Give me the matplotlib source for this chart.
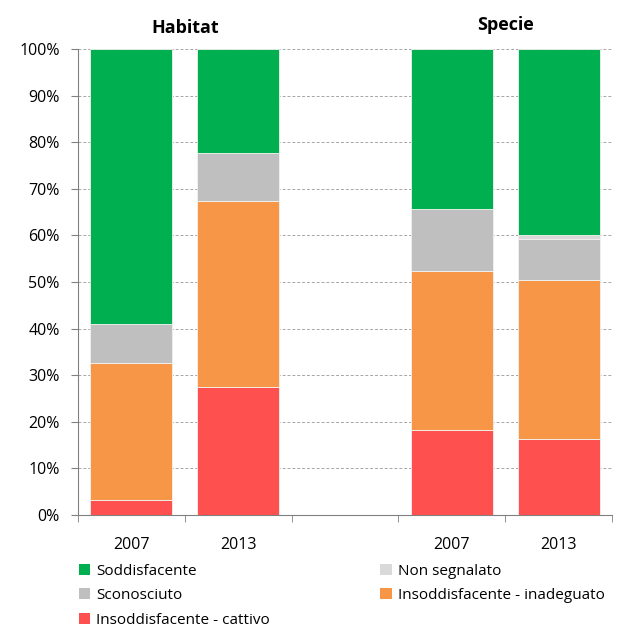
import numpy as np
import matplotlib.pyplot as plt
from matplotlib.patches import Patch
from matplotlib.ticker import FixedLocator, PercentFormatter

plt.rcParams['font.family'] = ['Open Sans', 'DejaVu Sans']

labels = ['2007', '2013', '', '2007', '2013']
red = [3.2, 27.4, 0, 18.3, 16.4]          # Insoddisfacente - cattivo
orange = [29.4, 40.0, 0, 34.0, 34.0]      # Insoddisfacente - inadeguato
grey = [8.3, 10.4, 0, 13.4, 8.9]          # Sconosciuto
lightgrey = [0, 0, 0, 0, 0.8]             # Non segnalato
green = [59.1, 22.2, 0, 34.3, 39.9]       # Soddisfacente

series = [
    ('Insoddisfacente - cattivo', red, '#FF5050'),
    ('Insoddisfacente - inadeguato', orange, '#F79646'),
    ('Sconosciuto', grey, '#BFBFBF'),
    ('Non segnalato', lightgrey, '#D9D9D9'),
    ('Soddisfacente', green, '#00B050'),
]

fig = plt.figure(figsize=(6.33, 6.30), dpi=100)
ax = fig.add_axes([0.123, 0.1825, 0.844, 0.7395])

x = np.arange(len(labels))
bottom = np.zeros(len(labels))
colors = {}
for name, vals, col in series:
    vals = np.array(vals, dtype=float)
    ax.bar(x, vals, bottom=bottom, width=0.77, color=col,
           edgecolor='#F2F2F2', linewidth=0.6, zorder=3)
    bottom += vals
    colors[name] = col

ax.set_xlim(-0.5, len(labels) - 0.5)
ax.set_ylim(0, 100)
ax.yaxis.set_major_locator(FixedLocator(np.arange(0, 101, 10)))
ax.yaxis.set_major_formatter(PercentFormatter(decimals=0))
ax.grid(axis='y', linestyle=(0, (3, 2)), color='#A6A6A6', linewidth=0.7, zorder=0)

ax.set_xticks(x)
ax.set_xticklabels(labels)
ax.set_xticks(np.arange(-0.5, len(labels), 1), minor=True)
ax.tick_params(axis='x', which='major', length=0, pad=16, labelsize=11.5, colors='#000000')
ax.tick_params(axis='x', which='minor', length=5, color='#808080', direction='out')
ax.tick_params(axis='y', length=5, color='#808080', labelsize=11.5, pad=8)

for s in ['top', 'right']:
    ax.spines[s].set_visible(False)
for s in ['left', 'bottom']:
    ax.spines[s].set_color('#808080')

ax.text(0.5, 102.5, 'Habitat', ha='center', va='bottom', fontsize=13, fontweight='bold')
ax.text(3.5, 103.3, 'Specie', ha='center', va='bottom', fontsize=13, fontweight='bold')

order = ['Soddisfacente', 'Sconosciuto', 'Insoddisfacente - cattivo',
         'Non segnalato', 'Insoddisfacente - inadeguato']
handles = [Patch(facecolor=colors[n], edgecolor='none') for n in order]
fig.legend(handles, order, ncol=2, loc='upper left', bbox_to_anchor=(0.115, 0.115),
           frameon=False, fontsize=11, handlelength=0.75, handleheight=0.75,
           handletextpad=0.4, columnspacing=7.2, labelspacing=0.62, borderaxespad=0)

fig.savefig('out.png', dpi=100)
